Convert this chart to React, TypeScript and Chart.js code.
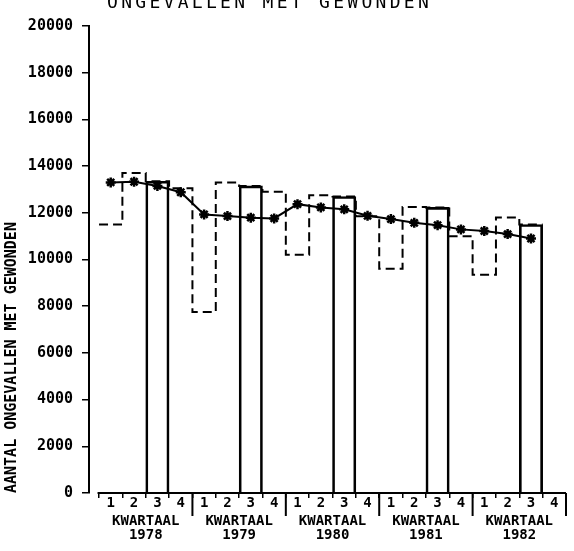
import React, { useEffect, useRef } from "react";
import { Chart, registerables } from "chart.js";

Chart.register(...registerables);

const TITLE = "ONGEVALLEN MET GEWONDEN";
const Y_TITLE = "AANTAL ONGEVALLEN MET GEWONDEN";
const YEAR_PREFIX = "KWARTAAL";
const YEARS = ["1978", "1979", "1980", "1981", "1982"];
const QUARTER_LABELS = ["1", "2", "3", "4"];

// Accidents with injured per quarter (Q1 1978 .. Q3 1982)
const ACCIDENTS_1978 = [11500, 13700, 13350, 13050];
const ACCIDENTS_1979 = [7750, 13300, 13150, 12900];
const ACCIDENTS_1980 = [10200, 12750, 12700, 11850];
const ACCIDENTS_1981 = [9600, 12250, 12230, 11000];
const ACCIDENTS_1982 = [9350, 11800, 11500];

// Trend (moving average) per quarter
const TREND_1978 = [13300, 13330, 13150, 12880];
const TREND_1979 = [11930, 11860, 11790, 11760];
const TREND_1980 = [12370, 12230, 12150, 11870];
const TREND_1981 = [11730, 11570, 11470, 11290];
const TREND_1982 = [11220, 11090, 10900];

const Y_MIN = 0;
const Y_MAX = 20000;
const Y_STEP = 2000;

const FONT = "DejaVu Sans Mono";

export default function App() {
  const canvasRef = useRef<HTMLCanvasElement | null>(null);

  useEffect(() => {
    const canvas = canvasRef.current;
    if (!canvas) return;

    const accidents = [
      ...ACCIDENTS_1978,
      ...ACCIDENTS_1979,
      ...ACCIDENTS_1980,
      ...ACCIDENTS_1981,
      ...ACCIDENTS_1982,
    ];
    const trend = [
      ...TREND_1978,
      ...TREND_1979,
      ...TREND_1980,
      ...TREND_1981,
      ...TREND_1982,
    ];
    const quartersPerYear = QUARTER_LABELS.length;
    const totalQuarters = YEARS.length * quartersPerYear;
    const xMin = -0.43;

    const trendPoints = trend.map((v, i) => ({ x: i + 0.5, y: v }));
    const q3Bars = accidents
      .map((v, i) => ({ x: i + 0.5, y: v, q: i % quartersPerYear }))
      .filter((p) => p.q === 2)
      .map((p) => ({ x: p.x, y: p.y }));
    const stepPoints = accidents.map((v, i) => ({ x: i, y: v }));
    stepPoints.push({ x: accidents.length, y: accidents[accidents.length - 1] });

    const titlePlugin = {
      id: "plotTitle",
      afterDraw(chart: any) {
        const ctx = chart.ctx as CanvasRenderingContext2D;
        ctx.save();
        ctx.font = `18px "${FONT}"`;
        ctx.fillStyle = "#000";
        ctx.textAlign = "left";
        ctx.textBaseline = "alphabetic";
        (ctx as any).letterSpacing = "3.3px";
        ctx.fillText(TITLE, chart.chartArea.left + 18, 8);
        (ctx as any).letterSpacing = "0px";
        ctx.restore();
      },
    };

    const axisPlugin = {
      id: "quarterAxis",
      afterDraw(chart: any) {
        const ctx = chart.ctx as CanvasRenderingContext2D;
        const xs = chart.scales.x;
        const bottom = chart.chartArea.bottom;
        ctx.save();
        ctx.strokeStyle = "#000";
        ctx.lineWidth = 2;
        ctx.beginPath();
        ctx.moveTo(xs.getPixelForValue(0) - 1.5, bottom);
        ctx.lineTo(xs.getPixelForValue(totalQuarters), bottom);
        for (let q = quartersPerYear; q <= totalQuarters; q += quartersPerYear) {
          const px = xs.getPixelForValue(q);
          ctx.moveTo(px, bottom);
          ctx.lineTo(px, bottom + 23);
        }
        ctx.stroke();
        ctx.restore();
      },
    };

    const chart = new Chart(canvas, {
      type: "line",
      data: {
        datasets: [
          {
            type: "line",
            data: trendPoints,
            borderColor: "#000",
            borderWidth: 2,
            pointStyle: "star",
            pointRadius: 5,
            pointBorderWidth: 2.5,
            pointBorderColor: "#000",
            pointBackgroundColor: "#000",
            fill: false,
            tension: 0,
            xAxisID: "x",
            yAxisID: "y",
          } as any,
          {
            type: "bar",
            data: q3Bars,
            borderColor: "#000",
            borderWidth: 2,
            backgroundColor: "rgba(0,0,0,0)",
            borderSkipped: "start",
            categoryPercentage: 1,
            barPercentage: 1,
            xAxisID: "x",
            yAxisID: "y",
          } as any,
          {
            type: "line",
            data: stepPoints,
            stepped: "before",
            borderColor: "#000",
            borderWidth: 2,
            borderDash: [9, 5],
            pointRadius: 0,
            fill: false,
            xAxisID: "x",
            yAxisID: "y",
          } as any,
        ],
      },
      options: {
        animation: false,
        responsive: false,
        maintainAspectRatio: false,
        layout: { padding: { top: 26, right: 8, bottom: 0, left: 0 } },
        plugins: {
          legend: { display: false },
          tooltip: { enabled: false },
          title: { display: false },
        },
        scales: {
          x: {
            type: "linear",
            position: "bottom",
            weight: 0,
            min: xMin,
            max: totalQuarters,
            offset: false,
            afterBuildTicks: (s: any) => {
              s.ticks = Array.from({ length: totalQuarters }, (_, i) => ({ value: i + 0.5 }));
            },
            afterFit: (s: any) => {
              s.height = 18;
            },
            ticks: {
              callback: (_v: any, i: number) => QUARTER_LABELS[i % quartersPerYear],
              font: { family: FONT, size: 14, weight: "bold", lineHeight: 1 },
              color: "#000",
              padding: -1.5,
              maxRotation: 0,
              autoSkip: false,
            },
            grid: {
              offset: true,
              drawOnChartArea: false,
              tickLength: 5,
              color: "#000",
              lineWidth: 1.5,
            },
            border: { display: false },
          },
          years: {
            type: "linear",
            position: "bottom",
            weight: 1,
            min: xMin,
            max: totalQuarters,
            offset: false,
            afterBuildTicks: (s: any) => {
              s.ticks = YEARS.map((_, j) => ({ value: j * quartersPerYear + quartersPerYear / 2 }));
            },
            afterFit: (s: any) => {
              s.height = 40;
            },
            ticks: {
              callback: (_v: any, i: number) => [YEAR_PREFIX, YEARS[i]],
              font: { family: FONT, size: 14, weight: "bold", lineHeight: 1 },
              color: "#000",
              padding: 3,
              maxRotation: 0,
              autoSkip: false,
            },
            grid: { display: false, drawTicks: false, tickLength: 0 },
            border: { display: false },
          },
          y: {
            type: "linear",
            position: "left",
            min: Y_MIN,
            max: Y_MAX,
            afterFit: (s: any) => {
              s.width = 89;
            },
            ticks: {
              stepSize: Y_STEP,
              callback: (v: any) => String(v),
              font: { family: FONT, size: 15, weight: "bold" },
              color: "#000",
              padding: 9,
            },
            grid: {
              drawOnChartArea: false,
              tickLength: 7,
              color: "#000",
              lineWidth: 1.5,
            },
            border: { display: true, color: "#000", width: 2 },
            title: {
              display: true,
              text: Y_TITLE,
              align: "start",
              color: "#000",
              font: { family: FONT, size: 15, weight: "bold" },
              padding: { top: 3.5, bottom: 0 },
            },
          },
        },
      } as any,
      plugins: [titlePlugin, axisPlugin],
    });

    return () => {
      chart.destroy();
    };
  }, []);

  return (
    <div style={{ position: "absolute", left: 0, top: 0, width: 574, height: 551, background: "#fff" }}>
      <canvas ref={canvasRef} width={574} height={551} style={{ display: "block" }} />
    </div>
  );
}
